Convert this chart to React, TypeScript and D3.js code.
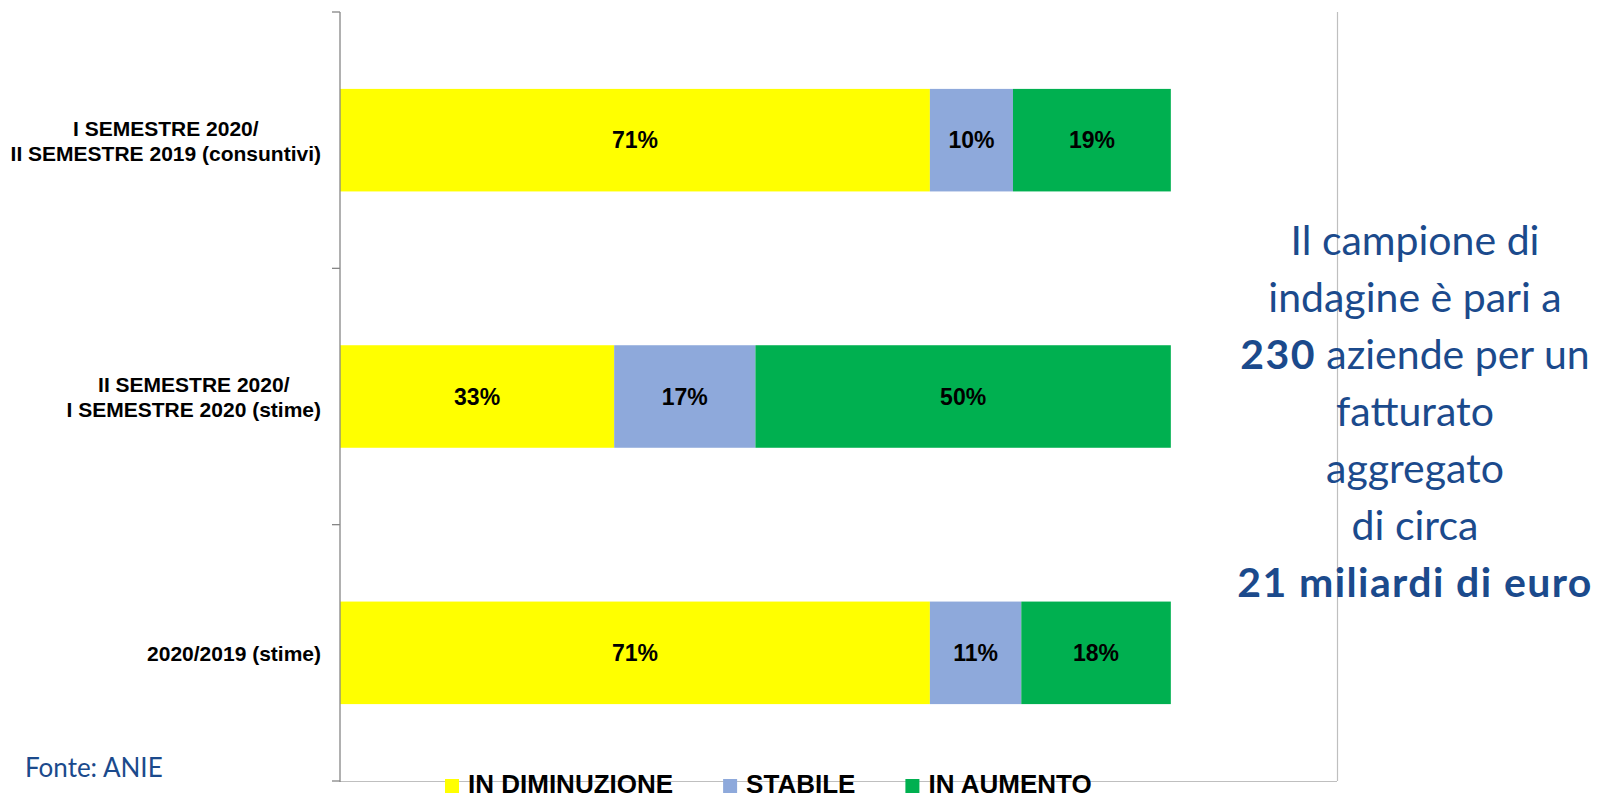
import React, { useEffect, useRef } from 'react';
import * as d3 from 'd3';

// categories (each split in display lines)
const categories = [
  ['I SEMESTRE 2020/', 'II SEMESTRE 2019 (consuntivi)'],
  ['II SEMESTRE 2020/', 'I SEMESTRE 2020 (stime)'],
  ['2020/2019 (stime)'],
];
const seriesNames = ['IN DIMINUZIONE', 'STABILE', 'IN AUMENTO'];
const inDiminuzione = [71, 33, 71];
const stabile = [10, 17, 11];
const inAumento = [19, 50, 18];
const seriesColors = ['#FFFF00', '#8EA9DB', '#00B050'];

const noteLines = [
  [{ t: 'Il campione di' }],
  [{ t: 'indagine è pari a' }],
  [{ t: '230', b: true }, { t: ' aziende per un' }],
  [{ t: 'fatturato' }],
  [{ t: 'aggregato' }],
  [{ t: 'di circa' }],
  [{ t: '21 miliardi di euro', b: true }],
];
const source = 'Fonte: ANIE';

const W = 1613, H = 800;
const BOLD = '"Liberation Sans", Arial, sans-serif';
const NOTE = 'Lato, "Open Sans", sans-serif';
const BLUE = '#1B4A8C';

const App = () => {
  const svgRef = useRef<SVGSVGElement>(null);

  useEffect(() => {
    const svg = d3.select(svgRef.current);
    svg.selectAll('*').remove();

    const left = 340, right = 1337, top = 12, bottom = 781;
    const keys = categories.map(c => c.join(' '));
    const rows = keys.map((k, i) => ({ key: k, values: [inDiminuzione[i], stabile[i], inAumento[i]] }));

    const x = d3.scaleLinear().domain([0, 120]).range([left, right]);
    const y = d3.scaleBand().domain(keys).range([top, bottom]).paddingInner(0.6).paddingOuter(0.3);

    // frame
    svg.append('line').attr('x1', left).attr('x2', right).attr('y1', bottom + 0.5).attr('y2', bottom + 0.5)
      .attr('stroke', '#BFBFBF').attr('stroke-width', 1.2);
    svg.append('line').attr('x1', right + 0.5).attr('x2', right + 0.5).attr('y1', top).attr('y2', bottom)
      .attr('stroke', '#BFBFBF').attr('stroke-width', 1.2);

    // bars
    rows.forEach(r => {
      let acc = 0;
      r.values.forEach((v, j) => {
        const x0 = x(acc), x1 = x(acc + v);
        acc += v;
        const g = svg.append('g');
        g.append('rect').attr('x', x0).attr('y', y(r.key)).attr('width', x1 - x0).attr('height', y.bandwidth())
          .attr('fill', seriesColors[j]);
        g.append('text').attr('x', (x0 + x1) / 2).attr('y', y(r.key) + y.bandwidth() / 2 + 8)
          .attr('text-anchor', 'middle').attr('font-family', BOLD).attr('font-weight', 'bold')
          .attr('font-size', 23).attr('fill', '#000').text(`${v}%`);
      });
    });

    // axis with ticks on band edges
    const ax = svg.append('g').attr('stroke', '#868686').attr('stroke-width', 1.3);
    ax.append('line').attr('x1', left).attr('x2', left).attr('y1', top).attr('y2', bottom + 1);
    d3.range(keys.length + 1).forEach(i => {
      const ty = top + i * y.step();
      ax.append('line').attr('x1', left - 8).attr('x2', left).attr('y1', ty).attr('y2', ty);
    });

    // category labels: block right aligned, lines centered
    categories.forEach((lines, i) => {
      const g = svg.append('g').attr('font-family', BOLD).attr('font-weight', 'bold')
        .attr('font-size', 21).attr('fill', '#000');
      const texts = lines.map(l => g.append('text').attr('text-anchor', 'middle').text(l));
      const maxW = d3.max(texts, t => (t.node() as SVGTextElement).getComputedTextLength()) || 0;
      const cx = 321 - maxW / 2;
      const cy = y(keys[i])! + y.bandwidth() / 2;
      const lh = 25;
      texts.forEach((t, k) => {
        t.attr('x', cx).attr('y', cy + 8 + (k - (lines.length - 1) / 2) * lh);
      });
    });

    // legend
    const lg = svg.append('g').attr('font-family', BOLD).attr('font-weight', 'bold').attr('font-size', 26);
    let lx = 445;
    seriesNames.forEach((n, j) => {
      lg.append('rect').attr('x', lx).attr('y', 779).attr('width', 14).attr('height', 14).attr('fill', seriesColors[j]);
      const t = lg.append('text').attr('x', lx + 23).attr('y', 793).attr('fill', '#000').text(n);
      lx += 23 + (t.node() as SVGTextElement).getComputedTextLength() + 50;
    });

    // note on the right
    const note = svg.append('g').attr('font-family', NOTE).attr('font-size', 41).attr('fill', BLUE)
      .attr('text-anchor', 'middle');
    noteLines.forEach((parts, i) => {
      const t = note.append('text').attr('x', 1415).attr('y', 255 + i * 57);
      parts.forEach((p: any) => t.append('tspan').attr('font-weight', p.b ? 'bold' : 'normal')
        .attr('letter-spacing', p.b ? 1.4 : 0).text(p.t));
    });

    svg.append('text').attr('x', 25).attr('y', 777).attr('font-family', NOTE).attr('font-size', 26)
      .attr('fill', BLUE).text(source);
  }, []);

  return (
    <svg ref={svgRef} width={W} height={H} style={{ position: 'absolute', left: 0, top: 0, background: '#fff' }} />
  );
};

export default App;
